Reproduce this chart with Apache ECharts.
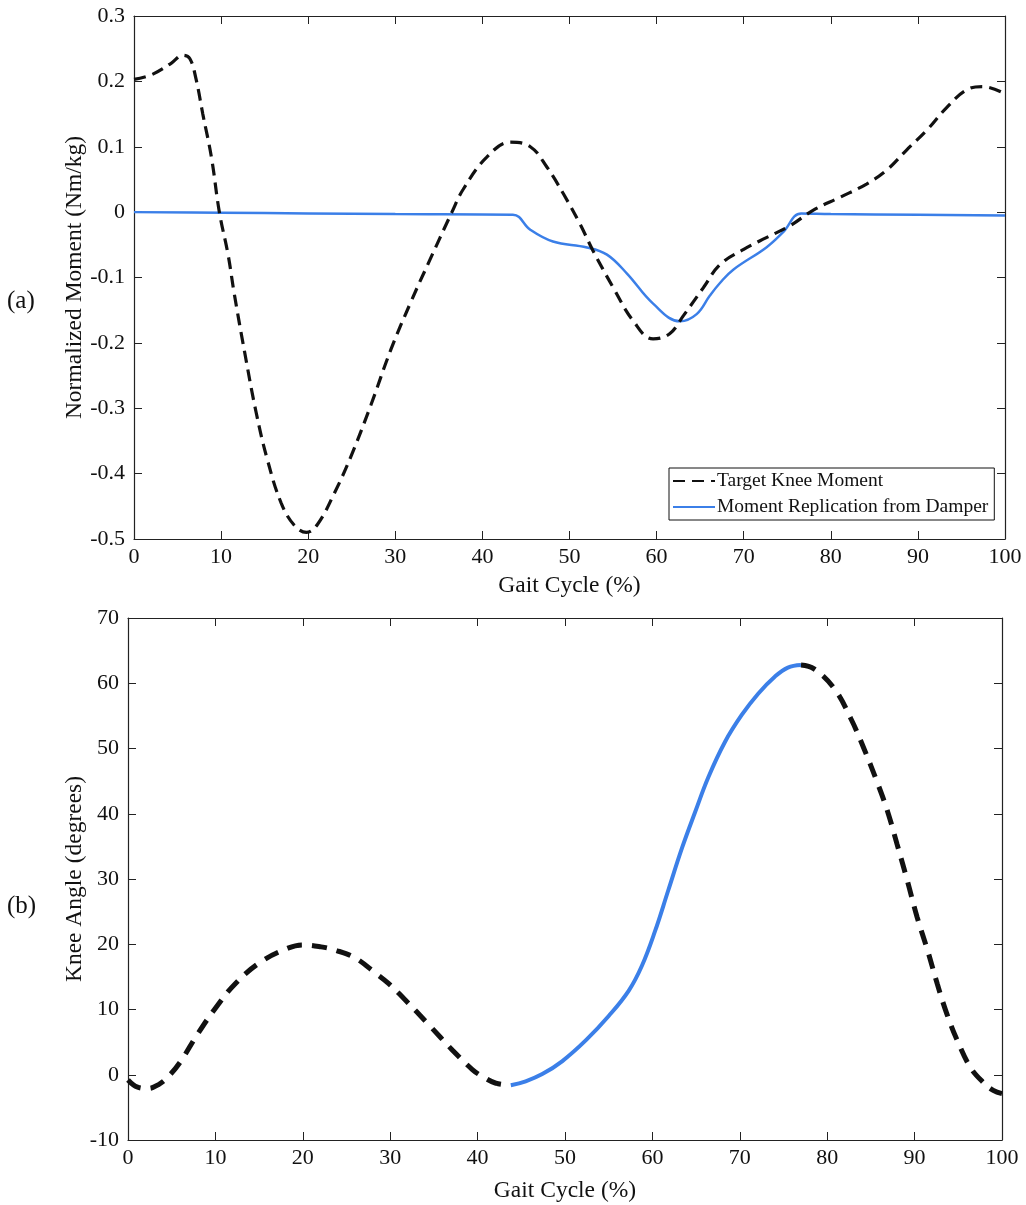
<!DOCTYPE html>
<html>
<head>
<meta charset="utf-8">
<script src="https://cdn.jsdelivr.net/npm/echarts@6/dist/echarts.min.js"></script>
<style>
html,body{margin:0;padding:0;background:#fff;}
#chart{width:1026px;height:1205px;}
</style>
</head>
<body>
<div id="chart"></div>
<script>
// ---------- DATA ----------
const xTicks = [0,10,20,30,40,50,60,70,80,90,100];
const momentTicks = [-0.5,-0.4,-0.3,-0.2,-0.1,0,0.1,0.2,0.3];
const angleTicks = [-10,0,10,20,30,40,50,60,70];

// (a) Target knee moment (Nm/kg) vs gait cycle (%)
const targetMomentX = [0,2,4.3,5.6,6.4,7.1,7.9,8.9,9.8,10.8,11.5,12.7,14,15.3,16.9,18.4,19.8,21.1,23,24.9,27.2,29.5,31.8,33.8,36.5,37.8,40.5,43.2,45.5,47.4,49.3,51.2,52.7,55,57.3,59.6,61.5,63.1,65.4,67.3,70,72.6,75.3,78,81.1,84.1,86.4,88.7,91,93.3,95.6,97.5,100];
const targetMomentY = [0.203,0.21,0.228,0.24,0.235,0.205,0.15,0.083,0.0,-0.065,-0.124,-0.214,-0.305,-0.378,-0.445,-0.479,-0.49,-0.477,-0.43,-0.374,-0.295,-0.21,-0.137,-0.078,0.0,0.035,0.084,0.107,0.1,0.069,0.028,-0.018,-0.059,-0.115,-0.166,-0.194,-0.186,-0.158,-0.115,-0.08,-0.057,-0.039,-0.021,0.003,0.023,0.043,0.064,0.095,0.125,0.16,0.187,0.192,0.181];

// (a) Moment replication from damper
const damperMomentX = [0,10,20,30,43.5,45.5,48.1,52,54.3,56.6,59.6,62.7,64.6,66.1,67.3,68.8,72.6,74.5,76.6,80,90,100];
const damperMomentY = [0,-0.001,-0.002,-0.003,-0.004,-0.027,-0.045,-0.054,-0.065,-0.094,-0.14,-0.167,-0.156,-0.128,-0.108,-0.088,-0.054,-0.031,-0.002,-0.003,-0.004,-0.005];

// (b) Knee angle (degrees) vs gait cycle (%)
const kneeAngleX = [0,1.1,2.3,3.5,4.6,6,7.9,10,12.3,15.2,18.3,20,22.1,23.7,26,28.3,29.8,31.7,34.4,37.1,39.4,40.6,42.1,43.8,45.5,47.4,49.7,52.4,55,57.3,58.8,60.3,61.8,63.4,64.9,66.4,68.3,70.2,72.1,74,75.5,77,78.5,80.8,82.7,84.2,85.7,86.9,88,89.2,90.3,91.5,92.6,93.7,94.9,96.4,97.8,99,100];
const kneeAngleY = [-0.8,-1.9,-2.1,-1.5,-0.3,2.0,6.1,10.2,14,17.3,19.4,19.9,19.6,19.1,17.9,15.6,14,11.5,7.7,3.8,0.8,-0.3,-1.3,-1.6,-1.0,0.1,2.1,5.3,9.0,12.9,16.7,22.0,28.2,34.8,40.3,45.6,51.0,55.1,58.4,61.0,62.4,62.8,62.2,59.2,54.6,50.0,44.9,40.4,35.3,29.6,24.1,19.0,13.9,9.3,5.2,1.1,-1.1,-2.4,-2.9];
// portion of the gait cycle reproduced by the damper
const damperRange = [43.8, 77];

// ---------- BUILD ----------
const pairs = (xs, ys) => xs.map((x, i) => [x, ys[i]]);
const angleTargetData = kneeAngleX.map((x, i) => (x > damperRange[0] && x < damperRange[1]) ? [x, null] : [x, kneeAngleY[i]]);
const angleDamperData = kneeAngleX.map((x, i) => [x, kneeAngleY[i]]).filter(p => p[0] >= damperRange[0] && p[0] <= damperRange[1]);

const FONT = '"Liberation Serif", "Times New Roman", serif';
const BLUE = '#3b7fe8';
const AXC = '#222';
const TICK_FS = 22, NAME_FS = 23.5;

function xAx(grid, gi, show) {
  return {
    gridIndex: gi, type: 'value', min: xTicks[0], max: xTicks[xTicks.length-1], interval: 10,
    position: show ? 'bottom' : 'top',
    axisLine: {show: true, onZero: false, lineStyle: {color: AXC, width: 1.2}},
    axisTick: {show: true, inside: true, length: 8, lineStyle: {color: AXC}},
    axisLabel: {show: show, fontFamily: FONT, fontSize: TICK_FS, color: '#111', margin: 7},
    splitLine: {show: false},
    name: show ? 'Gait Cycle (%)' : '', nameLocation: 'middle', nameGap: grid === 0 ? 35 : 39,
    nameMoveOverlap: false,
    nameTextStyle: {fontFamily: FONT, fontSize: NAME_FS, color: '#111'}
  };
}
function yAx(gi, ticks, interval, name, gap, show) {
  return {
    gridIndex: gi, type: 'value', min: ticks[0], max: ticks[ticks.length-1], interval: interval,
    position: show ? 'left' : 'right',
    axisLine: {show: true, onZero: false, lineStyle: {color: AXC, width: 1.2}},
    axisTick: {show: true, inside: true, length: 8, lineStyle: {color: AXC}},
    axisLabel: {show: show, fontFamily: FONT, fontSize: TICK_FS, color: '#111', margin: 9},
    splitLine: {show: false},
    name: show ? name : '', nameLocation: 'middle', nameGap: gap, nameRotate: 90,
    nameMoveOverlap: false,
    nameTextStyle: {fontFamily: FONT, fontSize: NAME_FS, color: '#111'}
  };
}

const chart = echarts.init(document.getElementById('chart'), null, {renderer: 'canvas'});
chart.setOption({
  backgroundColor: '#fff',
  animation: false,
  grid: [
    {left: 134, top: 16, width: 871, height: 523},
    {left: 128, top: 618, width: 874, height: 522}
  ],
  xAxis: [xAx(0,0,true), xAx(0,0,false), xAx(1,1,true), xAx(1,1,false)],
  yAxis: [
    yAx(0, momentTicks, 0.1, 'Normalized Moment (Nm/kg)', 47, true),
    yAx(0, momentTicks, 0.1, '', 0, false),
    yAx(1, angleTicks, 10, 'Knee Angle (degrees)', 41, true),
    yAx(1, angleTicks, 10, '', 0, false)
  ],
  legend: {
    data: ['Target Knee Moment', 'Moment Replication from Damper'],
    orient: 'vertical', left: 669, top: 468,
    itemWidth: 42, itemHeight: 14, itemGap: 6,
    padding: [3, 6, 3, 3],
    borderColor: '#111', borderWidth: 1, backgroundColor: '#fff',
    itemStyle: {opacity: 0},
    textStyle: {fontFamily: FONT, fontSize: 19.5, color: '#111', padding: [0,0,0,-3]},
    selectedMode: false
  },
  graphic: [
    {type: 'text', left: 7, top: 289, style: {text: '(a)', font: '25px ' + FONT, fill: '#111'}},
    {type: 'text', left: 7, top: 894, style: {text: '(b)', font: '25px ' + FONT, fill: '#111'}}
  ],
  series: [
    {name: 'Moment Replication from Damper', type: 'line', xAxisIndex: 0, yAxisIndex: 0,
     data: pairs(damperMomentX, damperMomentY), symbol: 'none', showSymbol: false, smooth: 0.4,
     lineStyle: {color: BLUE, width: 2.5}, itemStyle: {color: BLUE}},
    {name: 'Target Knee Moment', type: 'line', xAxisIndex: 0, yAxisIndex: 0,
     data: pairs(targetMomentX, targetMomentY), symbol: 'none', showSymbol: false, smooth: 0.4,
     lineStyle: {color: '#111', width: 3.2, type: [12, 7]}, itemStyle: {color: '#111'}},
    {name: 'Knee Angle (target)', type: 'line', xAxisIndex: 2, yAxisIndex: 2,
     data: angleTargetData, symbol: 'none', showSymbol: false, smooth: 0.4, connectNulls: false,
     lineStyle: {color: '#111', width: 5, type: [15, 10]}, itemStyle: {color: '#111'}},
    {name: 'Knee Angle (damper)', type: 'line', xAxisIndex: 2, yAxisIndex: 2,
     data: angleDamperData, symbol: 'none', showSymbol: false, smooth: 0.4,
     lineStyle: {color: BLUE, width: 4}, itemStyle: {color: BLUE}}
  ]
});
</script>
</body>
</html>
